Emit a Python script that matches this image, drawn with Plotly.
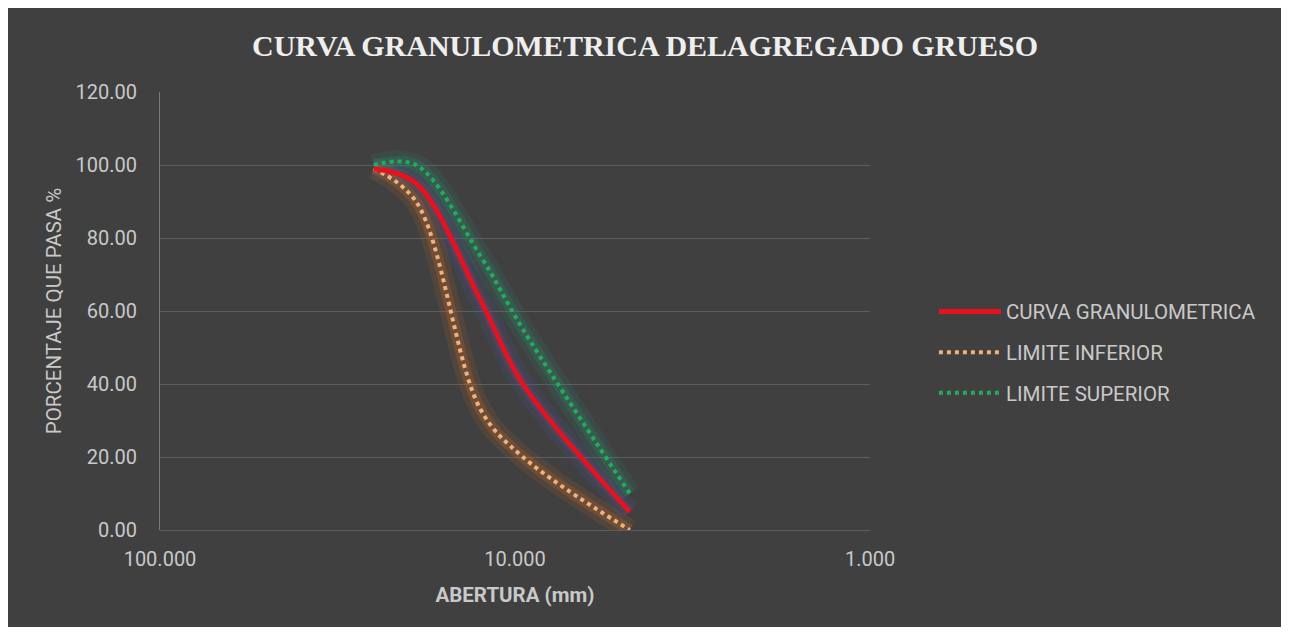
import plotly.graph_objects as go

# ---- data ----
abertura_mm = [25.0, 19.0, 12.5, 9.5, 4.75]
curva_granulometrica = [99.0, 95.0, 63.0, 40.0, 5.0]
limite_inferior = [99.0, 90.0, 33.0, 20.0, 0.0]
limite_superior = [100.0, 100.0, 75.0, 55.0, 10.0]

series_names = ["CURVA GRANULOMETRICA", "LIMITE INFERIOR", "LIMITE SUPERIOR"]
title_text = "CURVA GRANULOMETRICA DELAGREGADO GRUESO"
x_title = "ABERTURA (mm)"
y_title = "PORCENTAJE QUE PASA %"

BG = "#404040"
TXT = "#c9c9c9"
FONT = "Roboto"

fig = go.Figure()

# soft glow layers (no legend)
glows = [
    (curva_granulometrica, "rgba(70,90,170,0.14)", "rgba(90,80,160,0.22)"),
    (limite_inferior, "rgba(190,100,30,0.14)", "rgba(200,110,40,0.24)"),
    (limite_superior, "rgba(40,140,120,0.14)", "rgba(40,150,110,0.22)"),
]
for ys, c1, c2 in glows:
    fig.add_trace(go.Scatter(x=abertura_mm, y=ys, mode="lines", line=dict(color=c1, width=22, shape="spline"),
                             showlegend=False, hoverinfo="skip"))
    fig.add_trace(go.Scatter(x=abertura_mm, y=ys, mode="lines", line=dict(color=c2, width=11, shape="spline"),
                             showlegend=False, hoverinfo="skip"))

fig.add_trace(go.Scatter(x=abertura_mm, y=limite_inferior, name=series_names[1], mode="lines",
                         legendgroup="b", legendrank=2,
                         line=dict(color="#f2b07a", width=4, dash="4px,4px", shape="spline")))
fig.add_trace(go.Scatter(x=abertura_mm, y=limite_superior, name=series_names[2], mode="lines",
                         legendgroup="c", legendrank=3,
                         line=dict(color="#1fae5c", width=4, dash="4px,4px", shape="spline")))
fig.add_trace(go.Scatter(x=abertura_mm, y=curva_granulometrica, name=series_names[0], mode="lines",
                         legendgroup="a", legendrank=1,
                         line=dict(color="#e8121f", width=5, shape="spline")))

fig.update_layout(
    width=1273, height=619,
    paper_bgcolor=BG, plot_bgcolor=BG,
    margin=dict(l=152, r=411, t=84, b=97),
    title=dict(text="<b>" + title_text + "</b>", x=(645 - 8) / 1273, xanchor="center", xref="container",
               y=1 - 37 / 619, yanchor="middle",
               font=dict(family="Liberation Serif", size=30, color="#eeeeee")),
    font=dict(family=FONT, color=TXT),
    showlegend=True,
    legend=dict(x=1.09, xanchor="left", y=0.406, yanchor="middle",
                font=dict(family=FONT, size=20.5, color=TXT),
                bgcolor="rgba(0,0,0,0)", itemwidth=62, tracegroupgap=11,
                traceorder="grouped"),
)
fig.update_xaxes(type="log", range=[2, 0], dtick=1, tickformat=".3f",
                 showgrid=False, zeroline=False, showline=False,
                 ticks="", ticklabelstandoff=15,
                 tickfont=dict(family=FONT, size=20, color=TXT),
                 title=dict(text="<b>" + x_title + "</b>", font=dict(family=FONT, size=20.5, color=TXT), standoff=17))
fig.update_yaxes(range=[0, 120], dtick=20, tickformat=".2f",
                 showgrid=True, gridcolor="#5e5e5e", gridwidth=1,
                 zeroline=True, zerolinecolor="#5e5e5e", zerolinewidth=1,
                 showline=True, linecolor="#7a7a7a", linewidth=1,
                 ticks="", ticklabelstandoff=18,
                 tickfont=dict(family=FONT, size=20, color=TXT),
                 title=dict(text=y_title, font=dict(family=FONT, size=20.5, color=TXT), standoff=8))

fig.write_html("out.html")
